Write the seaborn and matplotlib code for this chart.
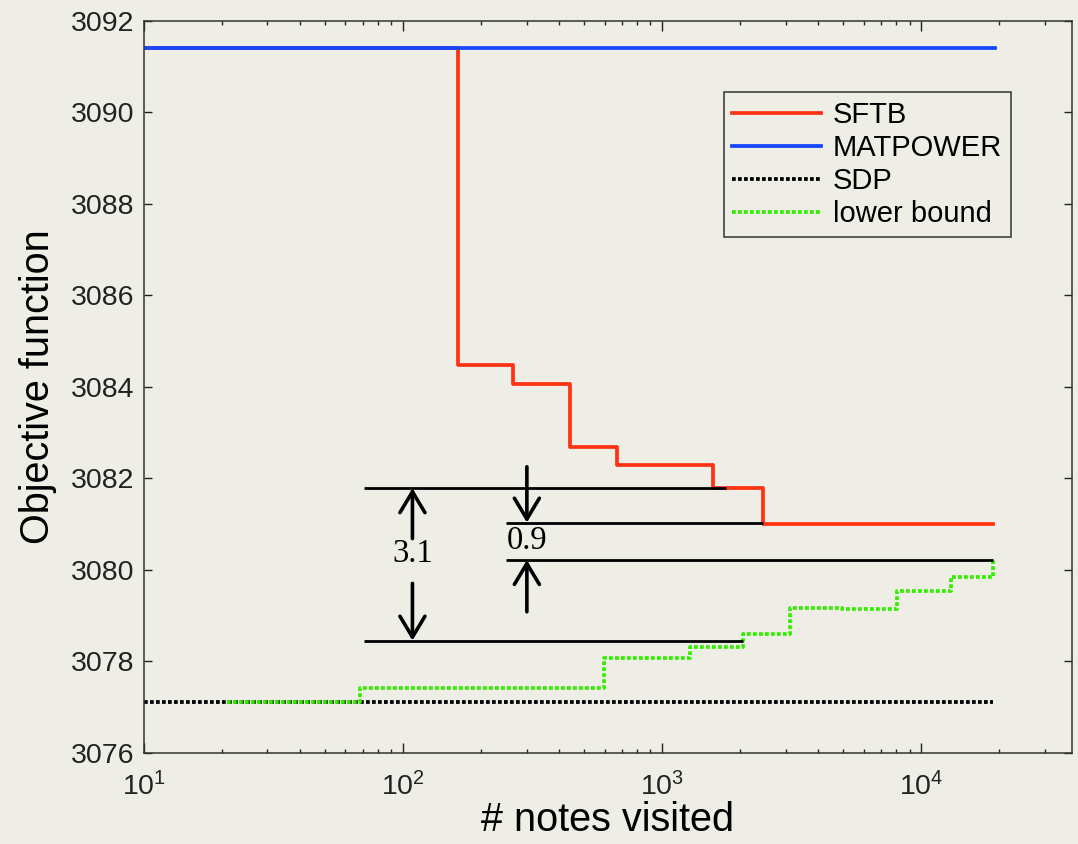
import matplotlib
matplotlib.use("Agg")
import matplotlib.pyplot as plt
import seaborn as sns

# branch-and-bound progress
sftb_x = [10, 163, 265, 440, 670, 1570, 2450, 18900]
sftb_y = [3091.41, 3084.47, 3084.06, 3082.68, 3082.29, 3081.78, 3081.00, 3081.00]

matpower_x = [10, 19300]
matpower_y = [3091.41, 3091.41]

sdp_x = [10, 18900]
sdp_y = [3077.11, 3077.11]

lb_x = [21, 68.4, 596, 1280, 2050, 3100, 4920, 8050, 13000, 18900]
lb_y = [3077.11, 3077.42, 3078.08, 3078.30, 3078.59, 3079.16, 3079.13, 3079.53, 3079.83, 3080.21]

# reference lines for the gap annotations
gap_y = [3081.78, 3081.03, 3080.21, 3078.45]
gap_x0 = [70.7, 249.5, 249.5, 70.7]
gap_x1 = [1770, 2445, 18900, 2042]

gap_labels = ["3.1", "0.9"]
label_x = [108.8, 300.6]
label_y = [3080.34, 3080.63]
# (tail, head) of the two arrows for each label
arrow_up = [(3080.68, 3081.78), (3079.08, 3080.21)]
arrow_down = [(3079.70, 3078.45), (3082.25, 3081.03)]

bg = "#efeee6"
plt.rcParams["font.family"] = ["Liberation Sans", "DejaVu Sans"]
plt.rcParams["mathtext.fontset"] = "custom"
plt.rcParams["mathtext.rm"] = "Liberation Sans"
plt.rcParams["mathtext.it"] = "Liberation Sans"

fig = plt.figure(figsize=(10.78, 8.44), dpi=100, facecolor=bg)
ax = fig.add_axes([0.1333, 0.1082, 0.8609, 0.8673])
ax.set_facecolor(bg)

lw = 2.7
dot = dict(dashes=(1.0, 0.6), dash_capstyle="butt")
sns.lineplot(x=sftb_x, y=sftb_y, ax=ax, color="#ff3312", linewidth=lw,
             drawstyle="steps-post", sort=False, estimator=None, label="SFTB")
sns.lineplot(x=matpower_x, y=matpower_y, ax=ax, color="#1446ff", linewidth=lw,
             sort=False, estimator=None, label="MATPOWER")
sns.lineplot(x=sdp_x, y=sdp_y, ax=ax, color="black", linewidth=lw,
             sort=False, estimator=None, label="SDP", **dot)
sns.lineplot(x=lb_x, y=lb_y, ax=ax, color="#33ee00", linewidth=lw,
             drawstyle="steps-post", sort=False, estimator=None,
             label="lower bound", **dot)

ax.hlines(gap_y, gap_x0, gap_x1, color="black", lw=2.0, zorder=5)
for txt, lx, ly, up, down in zip(gap_labels, label_x, label_y, arrow_up, arrow_down):
    ax.text(lx, ly, txt, ha="center", va="center", fontsize=23.5,
            family="Liberation Serif", zorder=6)
    for tail, head in (up, down):
        ax.annotate("", xy=(lx, head), xytext=(lx, tail),
                    arrowprops=dict(arrowstyle="->,head_length=0.5,head_width=0.3",
                                    lw=2.6, color="black", mutation_scale=30,
                                    shrinkA=0, shrinkB=0),
                    zorder=6)

ax.set_xscale("log")
ax.set_xlim(10, 3.8e4)
ax.set_ylim(3076, 3092)
ax.set_yticks(range(3076, 3093, 2))

ax.set_xlabel("# notes visited", fontsize=28.5, labelpad=0)
ax.set_ylabel("Objective function", fontsize=28.5, labelpad=10)
ax.tick_params(which="both", direction="in", top=True, right=True,
               colors="#222222", labelsize=20.5, width=1)
ax.tick_params(axis="x", which="major", length=7, pad=14)
ax.tick_params(axis="x", which="minor", length=3.2)
ax.tick_params(axis="y", which="major", length=6, pad=7)
for s in ax.spines.values():
    s.set_color("#333333")
    s.set_linewidth(1.1)

leg = ax.legend(loc="upper left", bbox_to_anchor=(0.625, 0.902),
                borderaxespad=0, fontsize=21, handlelength=3.05,
                handletextpad=0.4, labelspacing=0.17, borderpad=0.3,
                fancybox=False, frameon=True, framealpha=1, facecolor=bg,
                edgecolor="#333333")
leg.get_frame().set_linewidth(1.1)

fig.savefig("out.png", dpi=100, facecolor=bg)
